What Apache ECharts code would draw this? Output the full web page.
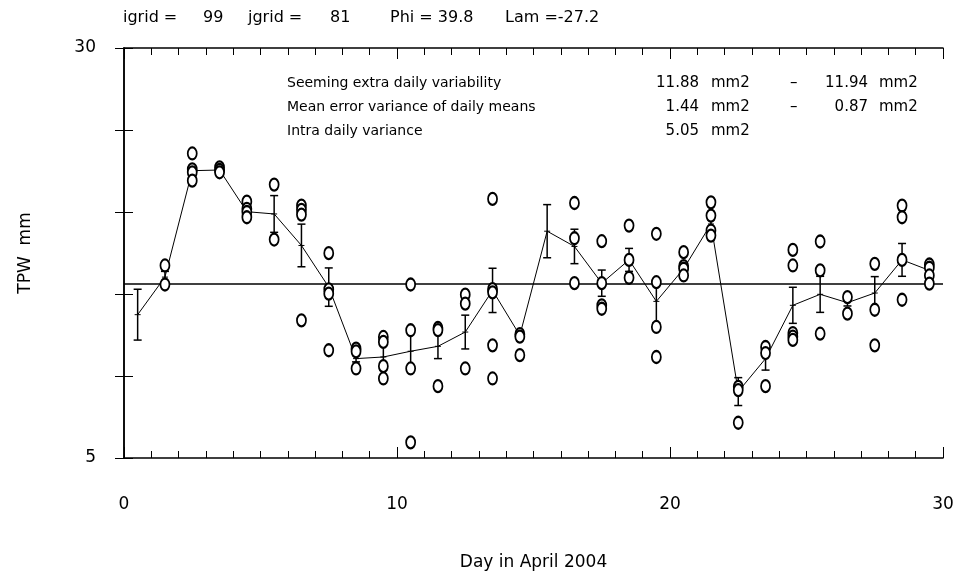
<!DOCTYPE html>
<html>
<head>
<meta charset="utf-8">
<script src="https://cdn.jsdelivr.net/npm/echarts@6/dist/echarts.min.js"></script>
<style>
html,body{margin:0;padding:0;background:#fff;}
#chart{width:959px;height:576px;}
</style>
</head>
<body>
<div id="chart"></div>
<script>
// day positions (centre of each day of April 2004)
const days = [0.5,1.5,2.5,3.5,4.5,5.5,6.5,7.5,8.5,9.5,10.5,11.5,12.5,13.5,14.5,
	15.5,16.5,17.5,18.5,19.5,20.5,21.5,22.5,23.5,24.5,25.5,26.5,27.5,28.5,29.5];
// daily means of TPW (mm)
const means = [13.74,16.03,22.52,22.56,20.02,19.88,17.96,15.42,11.06,11.16,11.51,11.81,12.68,15.22,12.48,
	18.83,17.90,15.66,17.08,14.55,16.54,19.27,9.05,11.06,14.31,14.98,14.47,15.06,17.08,16.44];
// error of the daily means
const errs = [1.55,0.35,0.3,0.1,0.2,1.12,1.3,1.17,0.2,0.8,1.2,0.75,1.03,1.35,0.25,
	1.62,1.05,0.8,0.7,1.3,0.3,0.3,0.85,0.7,1.1,1.1,0.2,1.0,1.0,0.3];
// single observations per day
const obs = [
	[],
	[16.74,15.58],
	[23.57,22.6,22.42,21.91],
	[22.72,22.56,22.42],
	[20.63,20.19,20.0,19.68],
	[21.67,18.32],
	[20.39,20.13,19.84,13.39],
	[17.49,15.28,15.02,11.57],
	[11.67,11.5,10.46],
	[12.38,12.08,10.6,9.85],
	[15.58,12.79,10.46,5.95],
	[12.93,12.8,9.38],
	[14.96,14.41,10.46],
	[20.8,15.3,15.1,11.87,9.85],
	[12.55,12.4,11.27],
	[],
	[20.55,18.4,15.66],
	[18.22,15.66,14.31,14.1],
	[19.17,17.08,15.99],
	[18.67,15.72,12.99,11.16],
	[17.55,16.7,16.54,16.13],
	[20.59,19.78,18.87,18.56],
	[9.34,9.14,7.15],
	[11.77,11.4,9.38],
	[17.69,16.74,12.62,12.4,12.2],
	[18.2,16.44,12.58],
	[14.81,13.8],
	[16.84,14.04,11.87],
	[20.39,19.68,17.08,14.65],
	[16.8,16.6,16.13,15.63]
];
const overallMean = 15.6;
const yTickLabels = [5,30];
const xTickLabels = [0,10,20,30];

const header = ['igrid =','99','jgrid =','81','Phi = 39.8','Lam =-27.2'];
const statNames = ['Seeming extra daily variability','Mean error variance of daily means','Intra daily variance'];
const statA = ['11.88','1.44','5.05'];
const statB = ['11.94','0.87',''];
const unit = 'mm2';

var FONT = 'DejaVu Sans';

var lineData = days.map(function(d,i){ return [d,means[i]]; });
var errData = days.map(function(d,i){ return [d,means[i],errs[i]]; });
var obsData = [];
for(let i=0;i<obs.length;i++){
	for(let j=0;j<obs[i].length;j++){
		obsData.push([days[i],obs[i][j]]);
	}
}

var myChart = echarts.init(document.getElementById('chart'));

var axLine = {show:true,lineStyle:{color:'#000',width:1.5}};

var xBase = {
	type:'value',min:0,max:30,interval:10,
	axisLine:axLine,
	axisTick:{show:true,inside:true,length:11,lineStyle:{color:'#000',width:1}},
	minorTick:{show:true,splitNumber:10,length:7,lineStyle:{color:'#000',width:1}},
	splitLine:{show:false}
};
var yBase = {
	type:'value',min:5,max:30,interval:5,
	axisLine:axLine,
	axisTick:{show:true,inside:true,length:9,lineStyle:{color:'#000',width:1}},
	splitLine:{show:false}
};

function txt(x,y,s,size,align){
	return {type:'text',x:x,y:y,style:{text:s,font:size+'px '+FONT,fill:'#000',textAlign:align||'left',textVerticalAlign:'middle'}};
}

var headerX = [123,203,248,330,390,505];
var texts = [];
for(let i=0;i<header.length;i++){
	texts.push(txt(headerX[i],18,header[i],16));
}
for(let i=0;i<statNames.length;i++){
	let y = 83 + i*24;
	texts.push(txt(287,y,statNames[i],14));
	texts.push(txt(699,y,statA[i],15,'right'));
	texts.push(txt(711,y,unit,15));
	if(statB[i]){
		texts.push(txt(790,y,'\u2013',15));
		texts.push(txt(868,y,statB[i],15,'right'));
		texts.push(txt(879,y,unit,15));
	}
}

var option = {
	animation:false,
	backgroundColor:'#fff',
	grid:{left:124,right:16,top:48,bottom:118,containLabel:false},
	graphic:texts,
	xAxis:[
		Object.assign({},xBase,{
			position:'bottom',
			name:'Day in April 2004',nameLocation:'middle',nameGap:96,
			nameTextStyle:{color:'#000',fontFamily:FONT,fontSize:17},
			axisLabel:{show:true,margin:38,color:'#000',fontFamily:FONT,fontSize:17,
				formatter:function(v){ return xTickLabels.indexOf(v)>=0 ? String(v) : ''; }}
		}),
		Object.assign({},xBase,{position:'top',axisLabel:{show:false}})
	],
	yAxis:[
		Object.assign({},yBase,{
			position:'left',
			name:'TPW  mm',nameLocation:'middle',nameGap:90,nameRotate:90,
			nameTextStyle:{color:'#000',fontFamily:FONT,fontSize:17},
			axisLabel:{show:true,margin:28,color:'#000',fontFamily:FONT,fontSize:17,
				formatter:function(v){ return yTickLabels.indexOf(v)>=0 ? String(v) : ''; }}
		}),
		Object.assign({},yBase,{position:'right',axisLabel:{show:false}})
	],
	series:[
		{
			type:'line',
			data:lineData,
			symbol:'none',
			lineStyle:{color:'#000',width:1},
			z:3,
			markLine:{
				silent:true,symbol:'none',
				label:{show:false},
				lineStyle:{color:'#000',width:1.5,type:'solid'},
				data:[{yAxis:overallMean}]
			}
		},
		{
			type:'custom',
			data:errData,
			z:4,
			renderItem:function(params,api){
				var x = api.value(0), m = api.value(1), e = api.value(2);
				var top = api.coord([x,m+e]);
				var bot = api.coord([x,m-e]);
				var mid = api.coord([x,m]);
				var w = 4;
				var st = {stroke:'#000',lineWidth:1.5};
				return {type:'group',children:[
					{type:'line',shape:{x1:top[0],y1:top[1],x2:bot[0],y2:bot[1]},style:st},
					{type:'line',shape:{x1:top[0]-w,y1:top[1],x2:top[0]+w,y2:top[1]},style:st},
					{type:'line',shape:{x1:bot[0]-w,y1:bot[1],x2:bot[0]+w,y2:bot[1]},style:st},
					{type:'line',shape:{x1:mid[0]-3,y1:mid[1],x2:mid[0]+3,y2:mid[1]},style:{stroke:'#000',lineWidth:1}}
				]};
			}
		},
		{
			type:'scatter',
			data:obsData,
			symbol:'emptyCircle',
			symbolSize:[9,12],
			itemStyle:{color:'#000',borderWidth:1.5,opacity:1},
			z:5
		}
	]
};

myChart.setOption(option);
</script>
</body>
</html>
